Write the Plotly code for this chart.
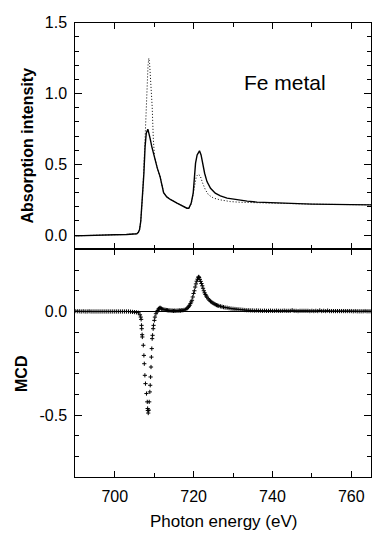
import plotly.graph_objects as go

# ---------------- data ----------------
# Absorption, solid curve (energy eV, intensity)
abs_solid_e = [690, 693, 694.5, 700, 703, 705, 705.6, 706.0, 706.3, 706.6, 707.0, 707.4, 707.7,
               708.0, 708.4, 708.7, 709.0, 709.4, 710.1, 710.8, 711.5, 712.4, 713.2, 714.1,
               715.8, 717.5, 718.3, 718.8, 719.4, 719.9, 720.2, 720.5, 720.9, 721.5, 721.9,
               722.3, 722.8, 723.4, 724.3, 725.5, 726.8, 728.5, 731.0, 733.6, 736.1, 740,
               745, 750, 755, 760, 765]
abs_solid_v = [-0.005, -0.004, 0.0, 0.003, 0.005, 0.007, 0.01, 0.02, 0.04, 0.096, 0.249, 0.437, 0.625,
               0.72, 0.748, 0.72, 0.68, 0.625, 0.543, 0.473, 0.413, 0.30, 0.27, 0.252,
               0.226, 0.202, 0.19, 0.19, 0.226, 0.296, 0.39, 0.508, 0.566, 0.595, 0.566,
               0.508, 0.437, 0.378, 0.331, 0.296, 0.277, 0.261, 0.249, 0.24, 0.233, 0.228,
               0.222, 0.219, 0.217, 0.215, 0.214]

# Absorption, dotted curve
abs_dot_e = [690, 693, 694.5, 700, 703, 705, 705.6, 706.0, 706.3, 706.6, 707.1, 707.5, 707.8,
             708.2, 708.45, 708.65, 708.85, 709.0, 709.5, 709.8, 710.1, 710.8, 711.5, 712.4,
             713.2, 714.1, 715.8, 717.5, 718.3, 718.8, 719.4, 719.9, 720.3, 720.7, 721.2,
             721.7, 722.3, 723.0, 723.8, 725.1, 726.8, 729.3, 731.8, 736, 740, 745, 750,
             755, 760, 765]
abs_dot_v = [-0.005, -0.004, 0.0, 0.003, 0.005, 0.007, 0.01, 0.02, 0.04, 0.10, 0.296, 0.55, 0.79,
             1.07, 1.20, 1.249, 1.21, 1.14, 0.907, 0.672, 0.555, 0.473, 0.413, 0.30,
             0.27, 0.252, 0.226, 0.202, 0.19, 0.19, 0.22, 0.29, 0.37, 0.415, 0.43,
             0.418, 0.367, 0.32, 0.284, 0.261, 0.249, 0.237, 0.232, 0.228, 0.226, 0.222, 0.219,
             0.217, 0.215, 0.214]

# MCD points (energy eV, MCD)
mcd_e = [690.0, 690.5, 691.0, 691.5, 692.0, 692.5, 693.0, 693.5, 694.0, 694.5, 695.0, 695.5,
         696.0, 696.5, 697.0, 697.5, 698.0, 698.5, 699.0, 699.5, 700.0, 700.5, 701.0, 701.5,
         702.0, 702.5, 703.0, 703.5, 704.0, 704.5, 705.0, 705.5,
         706.0, 706.4, 706.6, 706.7, 706.8, 706.85, 706.95, 707.0, 707.25, 707.4, 707.5,
         707.65, 707.8, 708.05, 708.25, 708.35, 708.4, 708.5,
         708.65, 708.75, 708.9, 709.0, 709.1, 709.2, 709.3, 709.4, 709.5, 709.6, 709.75,
         709.85, 710.05, 710.2, 710.45,
         710.7, 710.9, 711.1, 711.3, 711.5, 711.7, 711.9, 712.2, 712.5, 712.8, 713.1, 713.4,
         713.7, 714.0, 714.3, 714.6, 714.9, 715.2, 715.5, 715.8, 716.1, 716.4, 716.7, 717.0,
         717.3, 717.6, 718.0, 718.3, 718.6, 718.8, 719.0, 719.2, 719.4, 719.6, 719.8, 720.0,
         720.2, 720.4, 720.6, 720.8, 721.0, 721.2, 721.3, 721.4, 721.6, 721.8, 722.0, 722.2,
         722.4, 722.6, 722.8, 723.0, 723.2, 723.4, 723.7, 724.0, 724.3, 724.6, 724.9, 725.2,
         725.5, 725.8, 726.1, 726.4, 726.8, 727.2, 727.6, 728.0, 728.5, 729.0, 729.5, 730.0,
         730.5, 731.0, 731.5, 732.0, 732.5, 733.0, 733.5, 734.0, 734.5, 735.0, 735.5, 736.0,
         736.5, 737.0, 737.5, 738.0, 738.5, 739.0, 739.5, 740.0, 740.5, 741.0, 741.5, 742.0,
         742.5, 743.0, 743.5, 744.0, 744.5, 745.0, 745.5, 746.0, 746.5, 747.0, 747.5, 748.0,
         748.5, 749.0, 749.5, 750.0, 750.5, 751.0, 751.5, 752.0, 752.5, 753.0, 753.5, 754.0,
         754.5, 755.0, 755.5, 756.0, 756.5, 757.0, 757.5, 758.0, 758.5, 759.0, 759.5, 760.0,
         760.5, 761.0, 761.5, 762.0, 762.5, 763.0, 763.5, 764.0, 764.5, 765.0]
mcd_v = [0.002, 0.001, 0.001, 0.000, 0.001, 0.000, 0.000, 0.001, 0.000, 0.000, 0.000, 0.000,
         0.000, 0.000, 0.000, 0.000, 0.000, 0.000, 0.000, 0.000, 0.000, 0.000, 0.000, 0.000,
         0.000, 0.000, 0.000, 0.000, -0.001, -0.002, -0.003, -0.004,
         -0.006, -0.016, -0.027, -0.038, -0.067, -0.083, -0.112, -0.123, -0.163, -0.212, -0.252,
         -0.308, -0.348, -0.396, -0.436, -0.468, -0.478, -0.490,
         -0.476, -0.436, -0.388, -0.356, -0.316, -0.268, -0.220, -0.179, -0.131, -0.115, -0.083,
         -0.067, -0.043, -0.027, -0.011,
         -0.002, 0.005, 0.012, 0.016, 0.018, 0.016, 0.013, 0.011, 0.009, 0.008, 0.007, 0.006,
         0.005, 0.005, 0.004, 0.004, 0.003, 0.004, 0.003, 0.004, 0.004, 0.005, 0.004, 0.006,
         0.006, 0.008, 0.010, 0.014, 0.020, 0.025, 0.030, 0.038, 0.046, 0.054, 0.070, 0.087,
         0.100, 0.118, 0.133, 0.146, 0.156, 0.165, 0.167, 0.164, 0.155, 0.145, 0.135, 0.124,
         0.112, 0.100, 0.090, 0.082, 0.075, 0.069, 0.061, 0.055, 0.049, 0.045, 0.041, 0.037,
         0.034, 0.031, 0.029, 0.027, 0.025, 0.023, 0.021, 0.019, 0.018, 0.016, 0.014, 0.013,
         0.012, 0.011, 0.010, 0.009, 0.008, 0.007, 0.006, 0.006, 0.005, 0.005, 0.004, 0.005,
         0.004, 0.004, 0.003, 0.004, 0.003, 0.003, 0.004, 0.003, 0.003, 0.004, 0.003, 0.003,
         0.003, 0.004, 0.003, 0.003, 0.003, 0.006, 0.003, 0.003, 0.002, 0.003, 0.003, 0.003,
         0.003, 0.003, 0.002, 0.003, 0.002, 0.003, 0.002, 0.005, 0.002, 0.003, 0.002, 0.004,
         0.002, 0.002, 0.002, 0.002, 0.002, 0.002, 0.002, 0.002, 0.002, 0.002, 0.002, 0.002,
         0.001, 0.002, 0.001, 0.001, 0.001, 0.001, 0.002, 0.001, 0.001, 0.001]

x_tickvals = [700, 720, 740, 760]
x_ticktext = ["700", "720", "740", "760"]
abs_tickvals = [0.0, 0.5, 1.0, 1.5]
abs_ticktext = ["0.0", "0.5", "1.0", "1.5"]
mcd_tickvals = [-0.5, 0.0]
mcd_ticktext = ["-0.5", "0.0"]

# ---------------- figure ----------------
FONT = "Liberation Sans, Arial, sans-serif"
W, H, OFF = 382, 535, 8   # page body adds an 8px margin


def px_x(p):
    return (p - OFF) / W


def px_y(p):
    return 1 - (p - OFF) / H


fig = go.Figure()

fig.add_trace(go.Scatter(x=abs_dot_e, y=abs_dot_v, mode="lines",
                         line=dict(color="black", width=1, dash="1px,2px"),
                         xaxis="x2", yaxis="y2", showlegend=False))
fig.add_trace(go.Scatter(x=abs_solid_e, y=abs_solid_v, mode="lines",
                         line=dict(color="black", width=1.4),
                         xaxis="x2", yaxis="y2", showlegend=False))
fig.add_trace(go.Scatter(x=mcd_e, y=mcd_v, mode="markers",
                         marker=dict(symbol="cross-thin", size=3, color="black",
                                     line=dict(color="black", width=1)),
                         xaxis="x", yaxis="y", showlegend=False))

axis_common = dict(showline=True, linecolor="black", linewidth=1, mirror="allticks",
                   ticks="inside", tickcolor="black", tickwidth=1, showgrid=False,
                   automargin=False,
                   tickfont=dict(family=FONT, size=16, color="black"))

xdom = [px_x(75.3), px_x(371)]
ydom_bot = [px_y(477.3), px_y(249.3)]
ydom_top = [px_y(249.3), px_y(22.7)]
fig.update_layout(
    width=W, height=H,
    margin=dict(l=0, r=0, t=0, b=0, autoexpand=False),
    paper_bgcolor="white", plot_bgcolor="white",
    xaxis=dict(domain=xdom, range=[690, 765], anchor="y", zeroline=False,
               tickmode="array", tickvals=x_tickvals, ticktext=x_ticktext, ticklen=6,
               minor=dict(dtick=10, tick0=700, ticklen=4, ticks="inside", tickcolor="black"),
               ticklabelstandoff=4, **axis_common),
    yaxis=dict(domain=ydom_bot, range=[-0.8, 0.3], anchor="x",
               tickmode="array", tickvals=mcd_tickvals, ticktext=mcd_ticktext, ticklen=7,
               minor=dict(dtick=0.1, tick0=0, ticklen=4, ticks="inside", tickcolor="black"),
               ticklabelstandoff=4,
               zeroline=True, zerolinecolor="black", zerolinewidth=1, **axis_common),
    xaxis2=dict(domain=xdom, range=[690, 765], anchor="y2", showticklabels=False, zeroline=False,
                tickmode="array", tickvals=x_tickvals, ticklen=6,
                minor=dict(dtick=10, tick0=700, ticklen=4, ticks="inside", tickcolor="black"),
                **axis_common),
    yaxis2=dict(domain=ydom_top, range=[-0.1, 1.5], anchor="x2", zeroline=False,
                tickmode="array", tickvals=abs_tickvals, ticktext=abs_ticktext, ticklen=7,
                minor=dict(dtick=0.1, tick0=0, ticklen=4, ticks="inside", tickcolor="black"),
                ticklabelstandoff=4, **axis_common),
    annotations=[
        dict(text="Fe metal", x=743.1, y=1.08, xref="x2", yref="y2", showarrow=False,
             font=dict(family=FONT, size=21, color="black"), xanchor="center", yanchor="middle"),
        dict(text="<b>Absorption intensity</b>", x=px_x(27.7), y=px_y(145.8),
             xref="paper", yref="paper", showarrow=False, textangle=-90,
             font=dict(family=FONT, size=16, color="black"), xanchor="center", yanchor="middle"),
        dict(text="<b>MCD</b>", x=px_x(21), y=px_y(374),
             xref="paper", yref="paper", showarrow=False, textangle=-90,
             font=dict(family=FONT, size=16, color="black"), xanchor="center", yanchor="middle"),
        dict(text="Photon energy (eV)", x=px_x(223.3), y=px_y(521.7),
             xref="paper", yref="paper", showarrow=False,
             font=dict(family=FONT, size=17, color="black"), xanchor="center", yanchor="middle"),
    ],
)

fig.write_html("out.html")
